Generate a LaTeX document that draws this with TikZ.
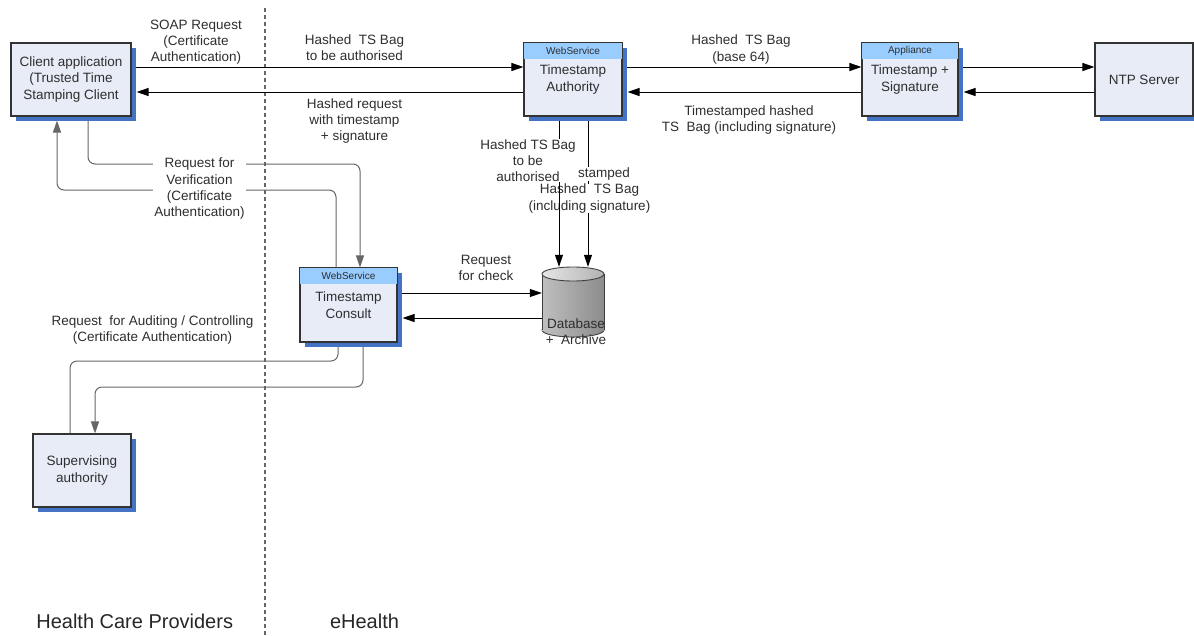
\documentclass[tikz,border=0pt]{standalone}
\usepackage{fontspec}
\setmainfont{Liberation Sans}
\usetikzlibrary{arrows.meta,shadows,calc}

\definecolor{boxfill}{HTML}{E8ECF6}
\definecolor{headblue}{HTML}{99CCFF}
\definecolor{shadowblue}{HTML}{4472C4}
\definecolor{inkgray}{HTML}{2E2E2E}

\pgfdeclarelayer{back}
\pgfsetlayers{back,main}

\tikzset{
  boxbody/.style={draw=black!80, line width=1.1pt, fill=boxfill, inner sep=0pt,
    drop shadow={shadow xshift=5pt, shadow yshift=-5pt, fill=shadowblue, opacity=1}},
  boxline/.style={draw=black!80, line width=1.1pt},
  boxtext/.style={text=inkgray, align=center, font=\fontsize{13.5}{16.5}\selectfont},
  headtext/.style={text=inkgray, font=\fontsize{10}{12}\selectfont},
  lbl/.style={text=inkgray, align=center, font=\fontsize{13.5}{16.2}\selectfont, inner sep=1.5pt},
  lblw/.style={lbl, fill=white},
  conn/.style={draw=black, line width=1pt},
  connsoft/.style={draw=black!60, line width=1pt, rounded corners=7pt},
  arrowend/.style={-{Triangle[length=12pt,width=8pt]}},
  region/.style={text=black!85, font=\fontsize{20}{23}\selectfont, inner sep=0pt},
  divider/.style={draw=black!60, line width=1.2pt, dash pattern=on 4pt off 3pt},
  dbbody/.style={left color=black!25, middle color=black!4, right color=black!45},
  dbline/.style={draw=black!75, line width=0.9pt}
}

% box with a coloured header strip: name, centre, width, height, header, text
\newcommand{\headbox}[6]{%
  \node[boxbody, minimum width=#3pt, minimum height=#4pt] (#1) at #2 {};
  \fill[headblue] (#1.north west) rectangle ([yshift=-17pt]#1.north east);
  \draw[boxline] (#1.north west) rectangle (#1.south east);
  \node[headtext] at ([yshift=-8.5pt]#1.north) {#5};
  \node[boxtext] at (#1.center) {#6};
}
% plain box: name, centre, width, height, text
\newcommand{\plainbox}[5]{%
  \node[boxbody, minimum width=#3pt, minimum height=#4pt] (#1) at #2 {};
  \node[boxtext] at (#1.center) {#5};
}

\begin{document}
\begin{tikzpicture}[x=1pt,y=-1pt]
\useasboundingbox (0,0) rectangle (1194,635);

% ---------- components ----------
\plainbox{client}{(71,79.5)}{120}{73}{Client application\\(Trusted Time\\Stamping Client}
\headbox{ta}{(573,79.5)}{98}{73}{WebService}{Timestamp\\Authority}
\headbox{sig}{(910,79.5)}{96}{73}{Appliance}{Timestamp +\\Signature}
\plainbox{ntp}{(1144,79.5)}{98}{73}{NTP Server}
\headbox{tc}{(348.5,305)}{97}{74}{WebService}{Timestamp\\Consult}
\plainbox{sup}{(82,470.5)}{98}{73}{Supervising\\authority}

% database cylinder
\node[minimum width=62pt, minimum height=70pt, inner sep=0pt] (db) at (573,302) {};
\shadedraw[dbbody, dbline] (573,330) ellipse [x radius=31, y radius=7];
\shade[dbbody] (542,274) rectangle (604,330);
\draw[dbline] (542,274) -- (542,330) (604,274) -- (604,330);
\shadedraw[left color=black!10, right color=black!30, dbline] (573,274) ellipse [x radius=31, y radius=7];
\node[lbl] at (576,331.5) {Database\\+~ Archive};

% ---------- connectors behind the boxes ----------
\begin{pgfonlayer}{back}
  % border between the two domains
  \draw[divider] (265,8) -- (265,635);

  \draw[conn,arrowend] (client.east |- 0,67) -- (ta.west |- 0,67);
  \draw[conn,arrowend] (ta.east |- 0,67) -- (sig.west |- 0,67);
  \draw[conn,arrowend] (sig.east |- 0,67) -- (ntp.west |- 0,67);

  % authority to database
  \draw[conn,arrowend] (ta.south -| 588,0) -- (db.north -| 588,0);
  \node[lblw, inner sep=0.5pt] at (604,174) {stamped};
  \node[lblw, inner sep=0.5pt] at (589.5,198.5) {Hashed~ TS Bag\\(including signature)};
  \draw[conn,arrowend] (ta.south -| 559,0) -- (db.north -| 559,0);
  \node[lblw, inner sep=0.5pt] at (528,160.5) {Hashed TS Bag\\to be\\authorised};

  % consult service to database
  \draw[conn,arrowend] (tc.east |- 0,293) -- (db.west |- 0,293);

  % verification request, client to consult service
  \draw[connsoft,arrowend] (client.south -| 88,0) -- (88,164) -- (360,164) -- (tc.north -| 360,0);

  % auditing / controlling
  \draw[connsoft] (tc.south -| 338,0) -- (338,361) -- (70,361) -- (sup.north -| 70,0);
  \draw[connsoft,arrowend] (tc.south -| 363,0) -- (363,387) -- (95,387) -- (sup.north -| 95,0);
\end{pgfonlayer}

% ---------- return connectors, tips reaching the shadow edge ----------
\draw[conn,arrowend] (ta.west |- 0,92) -- ($(client.east |- 0,92)+(5,0)$);
\draw[conn,arrowend] (sig.west |- 0,92) -- ($(ta.east |- 0,92)+(5,0)$);
\draw[conn,arrowend] (ntp.west |- 0,92) -- ($(sig.east |- 0,92)+(5,0)$);
\draw[conn,arrowend] (db.west |- 0,318) -- ($(tc.east |- 0,318)+(5,0)$);
\draw[connsoft,arrowend] (tc.north -| 336,0) -- (336,190) -- (57,190) -- ($(client.south -| 57,0)+(0,4)$);

% ---------- connector labels ----------
\node[lbl] at (196,42) {SOAP Request\\(Certificate\\Authentication)};
\node[lbl] at (354.5,47.5) {Hashed~ TS Bag\\to be authorised};
\node[lbl] at (354.5,121) {Hashed request\\with timestamp\\+ signature};
\node[lbl] at (741,49.5) {Hashed~ TS Bag\\(base 64)};
\node[lbl] at (749,120) {Timestamped hashed\\TS~ Bag (including signature)};
\node[lblw] at (199.5,188.8) {Request for\\Verification\\(Certificate\\Authentication)};
\node[lbl] at (486,268) {Request\\for check};
\node[lbl] at (152.5,330) {Request~ for Auditing / Controlling\\(Certificate Authentication)};

% ---------- domain titles ----------
\node[region, anchor=base] at (134.7,628) {Health Care Providers};
\node[region, anchor=base] at (364.5,628) {eHealth};
\end{tikzpicture}
\end{document}
